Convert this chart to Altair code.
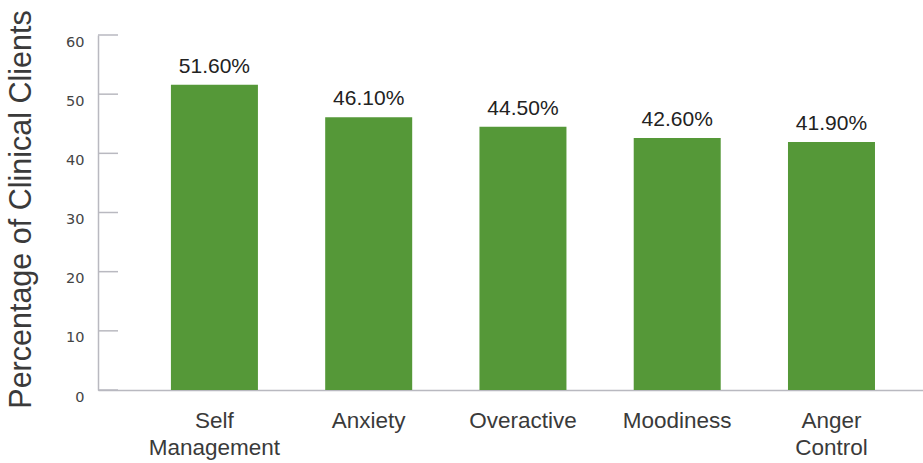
import altair as alt
import pandas as pd

categories = ["Self Management", "Anxiety", "Overactive", "Moodiness", "Anger Control"]
values = [51.6, 46.1, 44.5, 42.6, 41.9]
labels = ["51.60%", "46.10%", "44.50%", "42.60%", "41.90%"]
y_ticks = [0, 10, 20, 30, 40, 50, 60]

df = pd.DataFrame({"category": categories, "value": values, "label": labels})
ticks_df = pd.DataFrame({"t": y_ticks})

AXIS_GRAY = "#b9b9c0"

x_enc = alt.X(
    "category:N",
    sort=categories,
    scale=alt.Scale(paddingInner=0.436, paddingOuter=0.392, align=0.603),
    axis=alt.Axis(
        title=None,
        labelAngle=0,
        ticks=False,
        grid=False,
        labelExpr="split(datum.label, ' ')",
        labelFont="Liberation Sans",
        labelFontSize=22.5,
        labelColor="#3a3a3a",
        labelPadding=19,
        labelLineHeight=27,
        domainColor=AXIS_GRAY,
        domainWidth=1.5,
    ),
)

y_scale = alt.Scale(domain=[0, 60])

y_axis = alt.Axis(
    title="Percentage of Clinical Clients",
    values=y_ticks,
    ticks=False,
    grid=False,
    labelFont="DejaVu Sans",
    labelFontSize=14.5,
    labelColor="#444444",
    labelPadding=14,
    labelOffset=7,
    domainColor=AXIS_GRAY,
    domainWidth=1.5,
    titleFont="Liberation Sans",
    titleFontSize=30.5,
    titleFontWeight="normal",
    titleColor="#3a3a3a",
    titleX=-77,
    titleY=174,
    titleBaseline="middle",
)

bars = alt.Chart(df).mark_bar(color="#559838").encode(
    x=x_enc,
    y=alt.Y("value:Q", scale=y_scale, axis=y_axis),
)

text = alt.Chart(df).mark_text(
    font="Liberation Sans",
    fontSize=21,
    color="#222222",
    baseline="alphabetic",
    dy=-12,
).encode(
    x=alt.X("category:N", sort=categories),
    y=alt.Y("value:Q", scale=y_scale),
    text="label:N",
)

tick_rules = alt.Chart(ticks_df).mark_rule(color=AXIS_GRAY, strokeWidth=1.5).encode(
    y=alt.Y("t:Q", scale=y_scale),
    x=alt.value(0),
    x2=alt.value(20),
)

chart = (
    alt.layer(bars, tick_rules, text)
    .properties(
        width=825,
        height=355,
        background="white",
        autosize=alt.AutoSizeParams(type="none"),
        padding={"left": 98, "top": 35, "right": 0, "bottom": 73},
    )
    .configure_view(strokeWidth=0, stroke="transparent")
    .configure_axis(grid=False)
)

chart.save("out.html", embed_options={"renderer": "svg", "actions": False})
